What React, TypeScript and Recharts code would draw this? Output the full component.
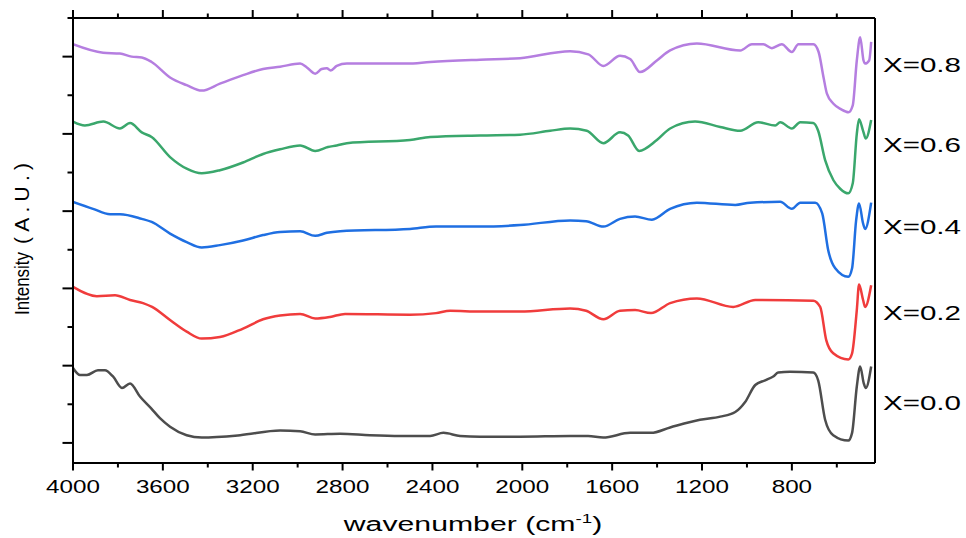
import { LineChart, Line, XAxis, YAxis, Label } from "recharts";

// wavenumber (cm-1) and offset intensity (a.u.) for each sample
const wn08 = [4000, 3866, 3791, 3739, 3694, 3650, 3568, 3494, 3427, 3346, 3243, 3154, 3078, 2989, 2959, 2922, 2893, 2870, 2853, 2826, 2781, 2514, 2410, 2188, 2010, 1787, 1706, 1639, 1565, 1520, 1476, 1401, 1342, 1223, 1030, 978, 927, 889, 845, 800, 771, 704, 681, 659, 644, 615, 582, 548, 529, 511, 496, 481, 474, 456, 447];
const in08 = [5.16, 5.05, 5.04, 5.0, 4.99, 4.93, 4.73, 4.63, 4.56, 4.65, 4.76, 4.84, 4.87, 4.91, 4.86, 4.78, 4.84, 4.85, 4.82, 4.88, 4.91, 4.91, 4.93, 4.96, 4.98, 5.07, 5.03, 4.88, 5.01, 4.97, 4.8, 4.95, 5.08, 5.17, 5.08, 5.16, 5.16, 5.11, 5.16, 5.06, 5.16, 5.16, 5.06, 4.73, 4.52, 4.39, 4.32, 4.28, 4.37, 4.95, 5.25, 4.95, 4.91, 4.95, 5.19];

const wn06 = [4000, 3947, 3865, 3791, 3746, 3694, 3650, 3568, 3494, 3427, 3346, 3243, 3154, 3078, 2989, 2922, 2865, 2826, 2781, 2500, 2410, 2188, 2010, 1876, 1787, 1713, 1639, 1565, 1529, 1480, 1401, 1342, 1231, 1119, 1030, 950, 874, 852, 800, 763, 705, 683, 652, 615, 585, 549, 529, 511, 501, 483, 471, 447];
const in06 = [4.16, 4.11, 4.16, 4.07, 4.14, 4.02, 3.96, 3.7, 3.55, 3.49, 3.53, 3.63, 3.74, 3.8, 3.85, 3.78, 3.83, 3.85, 3.88, 3.92, 3.96, 3.98, 3.99, 4.04, 4.07, 4.04, 3.88, 4.02, 3.98, 3.78, 3.92, 4.07, 4.16, 4.09, 4.04, 4.15, 4.11, 4.15, 4.07, 4.15, 4.14, 4.04, 3.66, 3.4, 3.29, 3.23, 3.36, 4.0, 4.19, 4.04, 3.94, 4.18];

const wn04 = [4000, 3911, 3835, 3791, 3694, 3650, 3568, 3494, 3427, 3346, 3243, 3154, 3078, 2989, 2922, 2870, 2811, 2500, 2384, 2188, 2010, 1787, 1716, 1639, 1565, 1498, 1423, 1342, 1223, 1052, 986, 852, 800, 763, 696, 665, 638, 607, 549, 532, 514, 501, 483, 474, 447];
const in04 = [3.12, 3.03, 2.96, 2.96, 2.9, 2.86, 2.71, 2.6, 2.53, 2.56, 2.62, 2.69, 2.73, 2.74, 2.68, 2.72, 2.74, 2.77, 2.8, 2.8, 2.82, 2.88, 2.87, 2.8, 2.9, 2.93, 2.89, 3.03, 3.11, 3.08, 3.11, 3.12, 3.03, 3.11, 3.11, 2.97, 2.49, 2.26, 2.15, 2.26, 2.88, 3.1, 2.84, 2.77, 3.11];

const wn02 = [4000, 3894, 3813, 3746, 3688, 3648, 3568, 3494, 3427, 3346, 3243, 3154, 3078, 2989, 2922, 2856, 2789, 2500, 2384, 2321, 2188, 2010, 1787, 1716, 1639, 1565, 1498, 1427, 1342, 1223, 1061, 963, 705, 674, 647, 616, 549, 532, 511, 501, 483, 474, 447];
const in02 = [2.02, 1.9, 1.91, 1.85, 1.81, 1.76, 1.59, 1.44, 1.35, 1.37, 1.48, 1.6, 1.65, 1.67, 1.61, 1.63, 1.67, 1.66, 1.68, 1.71, 1.7, 1.7, 1.74, 1.71, 1.6, 1.71, 1.72, 1.68, 1.81, 1.87, 1.76, 1.85, 1.84, 1.76, 1.33, 1.16, 1.08, 1.16, 1.72, 2.05, 1.85, 1.76, 2.04];

const wn00 = [4000, 3969, 3938, 3889, 3858, 3822, 3782, 3746, 3702, 3653, 3613, 3568, 3494, 3427, 3256, 3078, 2989, 2922, 2811, 2678, 2544, 2410, 2351, 2277, 2188, 2010, 1787, 1707, 1640, 1520, 1427, 1342, 1209, 1119, 1052, 1008, 963, 919, 883, 861, 808, 705, 683, 652, 616, 549, 532, 511, 496, 480, 471, 447];
const in00 = [0.97, 0.88, 0.88, 0.94, 0.94, 0.86, 0.71, 0.77, 0.6, 0.45, 0.32, 0.21, 0.1, 0.07, 0.1, 0.16, 0.15, 0.11, 0.12, 0.1, 0.09, 0.09, 0.13, 0.09, 0.08, 0.08, 0.09, 0.09, 0.07, 0.13, 0.13, 0.2, 0.3, 0.34, 0.4, 0.53, 0.75, 0.81, 0.86, 0.91, 0.92, 0.91, 0.81, 0.3, 0.1, 0.03, 0.13, 0.73, 0.99, 0.77, 0.71, 0.99];

const xTicks = [4000, 3800, 3600, 3400, 3200, 3000, 2800, 2600, 2400, 2200, 2000, 1800, 1600, 1400, 1200, 1000, 800, 600];
const yTicks = [0, 0.5, 1, 1.5, 2, 2.5, 3, 3.5, 4, 4.5, 5, 5.5];
const sampleNames = ["X=0.8", "X=0.6", "X=0.4", "X=0.2", "X=0.0"];
const labelLevels = [4.9, 3.86, 2.8, 1.69, 0.52];
const colors = ["#b57ee0", "#3aa76c", "#1f6fe2", "#f03c3c", "#4d4d4d"];

const toRows = (w: number[], v: number[]) => w.map((x, i) => ({ w: x, v: v[i] }));
const series = [
  toRows(wn08, in08),
  toRows(wn06, in06),
  toRows(wn04, in04),
  toRows(wn02, in02),
  toRows(wn00, in00),
];

const FONT = "'Liberation Sans', Arial, sans-serif";

function BottomTick(props: any) {
  const { x, y, payload } = props;
  const major = payload.value % 400 === 0;
  return (
    <g>
      <line x1={x} x2={x} y1={y} y2={y + (major ? 7.5 : 4.5)} stroke="#000" strokeWidth={2} />
      {major && (
        <text transform={`translate(${x},${y + 29.5}) scale(1.37,1)`} textAnchor="middle" fontSize={17.7} fontFamily={FONT} fill="#000">
          {payload.value}
        </text>
      )}
    </g>
  );
}

function TopTick(props: any) {
  const { x, y, payload } = props;
  const major = payload.value % 400 === 0;
  return <line x1={x} x2={x} y1={y} y2={y - (major ? 8 : 4.5)} stroke="#000" strokeWidth={2} />;
}

function LeftTick(props: any) {
  const { x, y, payload } = props;
  const major = Number.isInteger(payload.value);
  return <line x1={x} x2={x - (major ? 10.5 : 5.5)} y1={y} y2={y} stroke="#000" strokeWidth={2} />;
}

function RightTick(props: any) {
  const { x, y, payload } = props;
  const name = sampleNames[labelLevels.indexOf(payload.value)];
  return (
    <text transform={`translate(${x + 8},${y + 7.5}) scale(1.42,1)`} fontSize={20.8} fontFamily={FONT} fill="#000">
      {name}
    </text>
  );
}

const YTitle = () => (
  <g fontSize={21} fontFamily={FONT} fill="#000">
    <text transform="translate(28.5,315) rotate(-90)" textLength={63} lengthAdjust="spacingAndGlyphs">
      Intensity
    </text>
    <text transform="translate(28.5,244) rotate(-90)" textLength={81} lengthAdjust="spacing">
      (A.U.)
    </text>
  </g>
);

const XTitle = () => (
  <text transform="translate(473,531) scale(1.44,1)" textAnchor="middle" fontSize={21} fontFamily={FONT} fill="#000">
    wavenumber (cm
    <tspan dy={-8} fontSize={13}>-1</tspan>
    <tspan dy={8}>)</tspan>
  </text>
);

export default function App() {
  return (
    <div style={{ position: "absolute", left: 0, top: 0, width: 966, height: 538, background: "#fff" }}>
      <LineChart width={966} height={538} margin={{ top: 8, right: 81, bottom: 45, left: 33 }}>
        <XAxis
          dataKey="w"
          type="number"
          domain={[430, 4000]}
          reversed
          ticks={xTicks}
          interval={0}
          tickSize={0}
          tickMargin={0}
          height={30}
          tick={<BottomTick />}
          axisLine={{ stroke: "#000", strokeWidth: 2 }}
          allowDataOverflow
        >
          <Label content={XTitle} />
        </XAxis>
        <XAxis
          xAxisId="top"
          orientation="top"
          dataKey="w"
          type="number"
          domain={[430, 4000]}
          reversed
          ticks={xTicks}
          interval={0}
          tickSize={0}
          tickMargin={0}
          height={10}
          tick={<TopTick />}
          axisLine={{ stroke: "#000", strokeWidth: 2 }}
          allowDataOverflow
        />
        <YAxis
          type="number"
          domain={[-0.26, 5.5]}
          ticks={yTicks}
          interval={0}
          tickSize={0}
          tickMargin={0}
          width={40}
          tick={<LeftTick />}
          axisLine={{ stroke: "#000", strokeWidth: 2 }}
          allowDataOverflow
        >
          <Label content={YTitle} />
        </YAxis>
        <YAxis
          yAxisId="right"
          orientation="right"
          type="number"
          domain={[-0.26, 5.5]}
          ticks={labelLevels}
          interval={0}
          tickSize={0}
          tickMargin={0}
          width={10}
          tick={<RightTick />}
          axisLine={{ stroke: "#000", strokeWidth: 2 }}
          allowDataOverflow
        />
        {series.map((rows, i) => (
          <Line
            key={sampleNames[i]}
            data={rows}
            dataKey="v"
            type="monotone"
            stroke={colors[i]}
            strokeWidth={2.5}
            dot={false}
            activeDot={false}
            isAnimationActive={false}
          />
        ))}
      </LineChart>
    </div>
  );
}
